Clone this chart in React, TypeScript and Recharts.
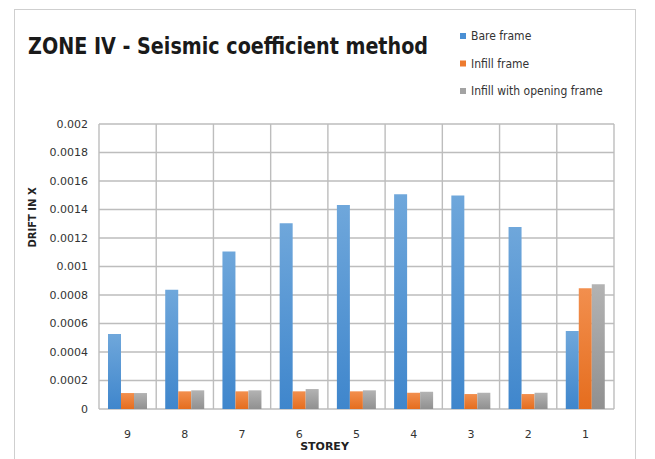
import React from 'react';
import { BarChart, Bar, XAxis, YAxis, CartesianGrid } from 'recharts';

const storeys = ['9', '8', '7', '6', '5', '4', '3', '2', '1'];
const bareFrame = [0.000526, 0.000836, 0.001105, 0.001304, 0.001432, 0.001507, 0.001498, 0.001278, 0.000547];
const infillFrame = [0.000112, 0.000124, 0.000124, 0.000124, 0.000124, 0.000114, 0.000105, 0.000105, 0.000848];
const openingFrame = [0.000112, 0.000131, 0.000131, 0.00014, 0.000131, 0.000121, 0.000114, 0.000114, 0.000876];
const yTicks = [0, 0.0002, 0.0004, 0.0006, 0.0008, 0.001, 0.0012, 0.0014, 0.0016, 0.0018, 0.002];

const series = [
	{ key: 'bare', name: 'Bare frame', top: '#6fa7db', bottom: '#3f86cc', swatch: '#4a8fd4' },
	{ key: 'infill', name: 'Infill frame', top: '#f28f4e', bottom: '#e56d1e', swatch: '#ed7a2e' },
	{ key: 'opening', name: 'Infill with opening frame', top: '#b3b3b3', bottom: '#909090', swatch: '#a3a3a3' },
];

const data = storeys.map((s, i) => ({
	storey: s,
	bare: bareFrame[i],
	infill: infillFrame[i],
	opening: openingFrame[i],
}));

const labelFont = "'DejaVu Sans', sans-serif";
const narrowFont = "'Liberation Sans Narrow', 'DejaVu Sans Condensed', 'Liberation Sans', sans-serif";

// title and legend sit above the plot, drawn in a separate svg layer
function Header() {
	return (
		<svg width={655} height={120} style={{ position: 'absolute', left: 0, top: 0, pointerEvents: 'none' }}>
			<text
				x={28}
				y={54}
				textLength={400}
				lengthAdjust='spacingAndGlyphs'
				fontFamily={narrowFont}
				fontWeight='bold'
				fontSize={23}
				fill='#1a1a1a'
			>
				ZONE IV - Seismic coefficient method
			</text>
			{series.map((s, i) => (
				<g key={s.key} transform={`translate(460, ${36 + i * 27.5})`}>
					<rect x={0} y={-3} width={6} height={6} fill={s.swatch} />
					<text x={11} y={4} fontFamily={narrowFont} fontSize={12} fill='#333'>
						{s.name}
					</text>
				</g>
			))}
		</svg>
	);
}

export default function App() {
	return (
		<div style={{ position: 'absolute', left: 0, top: 0, width: 655, height: 459, background: '#fff', overflow: 'hidden' }}>
			<div
				style={{
					position: 'absolute',
					left: 14,
					top: 9,
					width: 620,
					height: 470,
					border: '1.5px solid #cfcfcf',
				}}
			/>
			<BarChart
				width={655}
				height={459}
				data={data}
				margin={{ top: 124, right: 41, left: 0, bottom: 20 }}
				barGap={0}
				barSize={13}
			>
				<defs>
					{series.map((s) => (
						<linearGradient key={s.key} id={'grad-' + s.key} x1='0' y1='0' x2='0' y2='1'>
							<stop offset='0%' stopColor={s.top} />
							<stop offset='100%' stopColor={s.bottom} />
						</linearGradient>
					))}
				</defs>
				<CartesianGrid
					stroke='#bdbdbd'
					strokeWidth={1.4}
					verticalCoordinatesGenerator={({ offset }: any) =>
						storeys.map((_, i) => offset.left + (i * offset.width) / storeys.length).concat(offset.left + offset.width)
					}
				/>
				<XAxis
					dataKey='storey'
					axisLine={false}
					tickLine={false}
					tickSize={0}
					tickMargin={21}
					height={30}
					tick={{ fontFamily: labelFont, fontSize: 11, fill: '#333' }}
					label={{
						value: 'STOREY',
						position: 'bottom',
						offset: 3,
						dx: -32,
						style: { fontFamily: labelFont, fontSize: 11, fontWeight: 'bold', fill: '#222' },
					}}
				/>
				<YAxis
					width={99}
					domain={[0, 0.002]}
					ticks={yTicks}
					tickFormatter={(v: number) => String(v)}
					axisLine={false}
					tickLine={false}
					tickSize={0}
					tickMargin={11}
					tick={{ fontFamily: labelFont, fontSize: 11, fill: '#333' }}
					label={{
						value: 'DRIFT IN X',
						angle: -90,
						position: 'insideLeft',
						offset: 32,
						dy: -19,
						style: { fontFamily: labelFont, fontSize: 10, fontWeight: 'bold', fill: '#222' },
					}}
				/>
				{series.map((s) => (
					<Bar key={s.key} dataKey={s.key} name={s.name} fill={`url(#grad-${s.key})`} isAnimationActive={false} />
				))}
			</BarChart>
			<Header />
		</div>
	);
}
